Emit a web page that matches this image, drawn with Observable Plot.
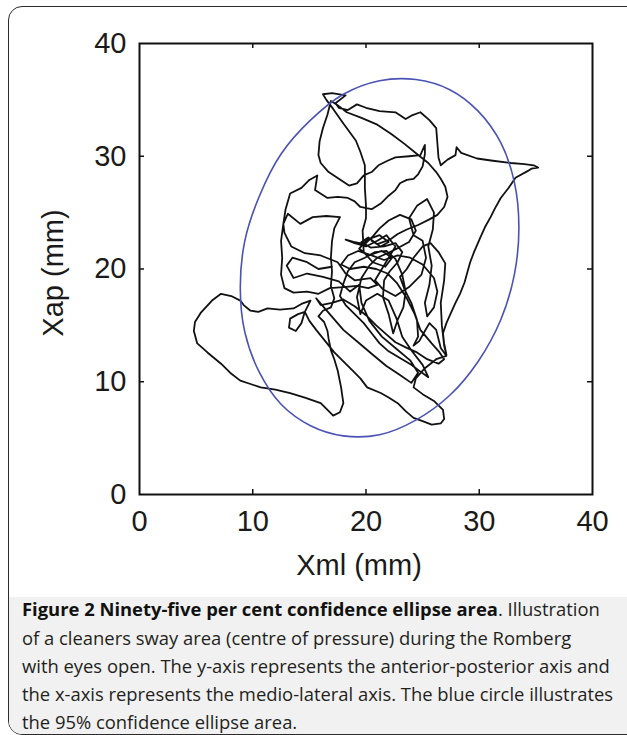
<!DOCTYPE html>
<html><head><meta charset="utf-8">
<script src="https://cdn.jsdelivr.net/npm/d3@7"></script>
<script src="https://cdn.jsdelivr.net/npm/@observablehq/plot@0.6"></script>
<style>
html,body{margin:0;padding:0;background:#fff;}
#page{position:relative;width:627px;height:735px;overflow:hidden;background:#fff;}
#box{position:absolute;left:8px;top:6px;width:650px;height:729px;border:1.5px solid #2b2b2b;border-radius:14px;box-sizing:border-box;overflow:hidden;}
#capbg{position:absolute;left:0;top:590px;width:100%;height:200px;background:#f1f1f1;}
#chart{position:absolute;left:0;top:0;}
.ln{position:absolute;left:22px;white-space:nowrap;font-family:"Open Sans",sans-serif;font-size:18.4px;line-height:22px;color:#231f20;}
.ln b{font-weight:700;color:#111;}
</style>
</head><body>
<div id="page">
  <div id="box"><div id="capbg"></div></div>
  <div id="chart"></div>
  <div class="ln" style="top:598px"><b>Figure 2 Ninety-five per cent confidence ellipse area</b>. Illustration</div>
  <div class="ln" style="top:627px">of a cleaners sway area (centre of pressure) during the Romberg</div>
  <div class="ln" style="top:655px">with eyes open. The y-axis represents the anterior-posterior axis and</div>
  <div class="ln" style="top:683px">the x-axis represents the medio-lateral axis. The blue circle illustrates</div>
  <div class="ln" style="top:711px">the 95% confidence ellipse area.</div>
</div>
<script>
const xTicks = [0, 10, 20, 30, 40];
const yTicks = [0, 10, 20, 30, 40];
const innerTicks = [10, 20, 30];
const xLabel = "Xml (mm)";
const yLabel = "Xap (mm)";

// 95% confidence ellipse outline (mm)
const ellipseX = [33.5,33.1,31.9,29.9,27.4,24.4,21.2,18.0,15.1,12.5,10.6,9.3,8.9,9.3,10.6,12.5,15.1,18.0,21.2,24.4,27.4,29.9,31.9,33.1];
const ellipseY = [23.7,27.7,31.2,34.0,35.9,36.8,36.7,35.5,33.2,30.2,26.5,22.5,18.3,14.4,10.8,8.0,6.1,5.2,5.3,6.6,8.8,11.8,15.5,19.5];

// centre-of-pressure sway path (mm)
const swayPath = [
[20.5,22.5],[21.3,22.0],[22.0,22.4],[21.2,23.0],[20.1,22.6],[19.4,21.8],[20.2,21.2],[21.4,21.6],[22.3,21.0],[21.7,20.2],[20.6,20.6],[19.8,21.5],[19.7,23.4],[20.0,24.5],[20.0,25.6],[19.9,27.2],[19.9,29.2],[19.5,30.4],[19.1,31.4],[18.0,32.9],[17.1,34.2],[16.5,35.0],[16.2,35.5],[17.0,35.6],[18.2,35.4],[17.3,34.7],[17.6,34.3],[18.4,34.1],[19.2,34.6],[20.0,34.3],[21.2,34.0],[22.6,33.9],[23.5,33.3],[24.0,33.6],[24.8,33.9],[25.6,33.2],[26.2,32.5],[26.3,31.2],[26.4,29.9],[26.6,29.2],
[27.2,29.7],[27.9,30.1],[28.0,30.8],[28.4,30.3],[29.8,29.8],[31.2,29.6],[32.8,29.4],[34.0,29.3],[34.8,29.2],[35.2,29.0],[34.6,28.9],[34.3,28.7],[33.2,28.1],[32.6,27.2],[31.9,26.3],[31.4,25.4],[31.0,24.6],[30.5,23.7],[30.1,22.8],[29.5,21.4],[29.2,20.6],[29.0,19.9],[28.7,18.8],[28.3,17.8],[27.9,17.0],[27.5,16.1],[27.1,15.2],[26.8,14.3],[26.9,13.4],[27.1,12.4],
[26.9,13.2],[26.7,15.0],[26.6,17.0],[26.9,19.0],[27.0,20.5],[26.4,21.5],[25.7,22.3],[25.0,22.0],[24.2,21.0],[23.6,20.0],[23.0,19.3],[23.4,18.2],[24.0,17.0],[24.5,15.5],[24.6,14.0],[24.2,13.2],[24.7,13.6],[25.2,14.5],[25.6,15.2],[26.2,14.6],[26.6,13.0],[27.1,12.3],
[26.2,12.0],[25.2,11.2],[24.4,10.3],[24.2,9.5],[25.0,8.9],[26.0,8.3],[26.8,7.5],[26.9,6.7],[26.6,6.3],[25.8,6.2],[25.0,6.5],[24.2,6.8],[23.5,7.4],[22.8,8.1],[22.0,8.6],[21.3,9.0],[20.1,9.5],[19.5,10.3],[18.8,11.0],[18.0,11.8],[17.2,12.6],[16.4,13.6],[15.6,14.6],[15.0,15.4],[14.6,16.2],[14.0,16.0],[13.3,15.6],[13.2,14.8],[13.8,14.5],[14.3,15.2],[14.6,16.2],[15.1,17.2],
[14.3,16.9],[13.6,16.5],[12.4,16.4],[11.3,16.5],[10.5,16.2],[9.8,16.3],[9.2,16.8],[8.9,17.2],[8.1,17.6],[7.2,17.8],[6.4,17.2],[5.4,16.1],[4.9,15.3],[4.8,14.5],[5.1,13.4],[6.0,12.6],[7.2,11.6],[8.0,10.8],[8.9,10.1],[9.8,9.8],[10.7,9.5],[12.0,9.3],[13.3,9.0],[14.6,8.6],[16.0,8.1],[16.6,7.5],[17.1,7.0],[17.7,7.3],[18.0,8.1],[17.8,9.5],[17.5,11.0],[17.2,12.0],[16.9,12.8],[16.7,13.8],[16.6,14.5],[16.3,15.3],[15.8,15.8],[16.2,16.3],[16.9,16.6],
[17.2,17.4],[16.9,18.5],[17.0,19.8],[16.9,21.0],[17.0,22.5],[17.2,23.6],[17.7,24.6],[16.5,24.7],[15.3,24.6],[14.2,24.0],[13.1,24.9],[12.7,24.0],[12.5,22.5],[12.6,21.0],[12.5,19.5],[12.8,18.3],[13.6,17.9],[14.8,18.0],[15.8,17.8],[16.8,18.3],[18.0,18.4],[19.2,18.5],[20.2,18.3],[21.0,18.6],[20.4,19.2],[19.0,19.0],[18.2,19.6],[17.5,20.6],[16.0,21.2],[14.6,21.4],[13.4,22.0],[12.8,23.2],[12.7,24.0],[12.9,25.3],[13.3,26.7],[14.3,27.2],[15.0,27.9],[15.7,28.3],[15.5,27.0],[16.6,26.3],[17.5,26.4],[18.4,26.3],[19.0,26.0],[19.5,25.5],[20.5,25.3],[21.3,25.8],[22.0,26.5],[22.6,27.0],[23.0,27.6],[23.6,27.9],[24.2,28.0],[24.6,28.4],[25.0,29.1],[25.2,30.2],[25.2,31.0],
[24.8,30.1],[23.8,30.0],[22.6,29.9],[21.9,29.6],[21.1,29.2],[20.5,28.6],[19.8,28.3],[19.2,27.6],[18.5,27.4],[17.6,28.0],[16.7,28.6],[16.0,29.4],[15.8,30.1],[15.9,31.3],[16.2,32.5],[16.6,33.7],[16.9,34.9],[17.4,34.6],[18.3,33.9],[19.6,33.4],[21.0,32.8],[22.2,32.0],[23.4,31.1],[24.5,30.2],[25.5,29.4],[26.2,28.6],[26.6,28.0],[27.0,27.3],[27.2,26.4],[26.9,25.5],[26.3,24.8],[25.6,24.4],[24.6,23.9],[23.6,23.5],[22.8,23.1],[22.1,22.6],[21.0,22.2],[20.2,22.8],[19.6,22.4],[20.4,21.9],[21.6,22.0],[22.6,22.3],[23.2,21.5],[22.8,20.6],[22.1,19.8],[21.6,19.0],[21.5,17.5],[22.0,16.0],[22.4,14.3],[22.8,15.5],[23.3,16.6],[23.5,18.0],[23.2,19.5],[22.6,20.9],[21.8,21.6],[20.8,21.5],[19.9,21.0],[19.0,20.6],[18.4,19.8],[18.0,18.7],[17.7,17.6],[18.2,16.8],[19.0,16.0],[19.8,15.2],[20.5,14.3],[21.2,13.4],[22.0,12.7],[23.0,12.1],[24.0,11.5],[24.8,10.9],[25.5,10.4],
[25.0,11.5],[24.0,12.8],[23.2,14.0],[22.7,15.6],[22.0,17.2],[21.0,17.8],[20.0,17.2],[19.5,16.0],[19.2,17.5],[19.6,19.2],[20.3,20.3],[21.0,21.0],[21.9,21.4],[22.9,21.9],[23.8,22.4],[24.4,23.4],[24.0,24.4],[23.0,24.8],[22.0,24.3],[21.2,23.6],[20.6,22.9],[19.9,22.2],[18.9,22.4],[18.2,22.6],[19.0,22.3],[20.0,22.0],[21.0,22.5],[21.8,23.0],[22.6,22.0],[22.0,21.0],[21.4,20.0],[20.8,19.0],
[21.5,18.2],[22.6,17.6],[23.8,18.4],[24.9,19.5],[25.3,21.0],[25.0,22.5],[24.2,23.0],[23.8,24.5],[24.5,25.6],[25.4,26.2],[26.0,25.0],[25.9,23.5],[25.5,22.0],[25.8,20.3],[25.6,18.6],[25.2,17.0],[25.4,15.8],[26.0,16.6],[26.3,18.0],[26.0,19.2],[25.0,20.4],[23.9,21.0],[22.8,21.2],[21.6,20.8],[20.5,21.2],[19.3,21.6],[18.4,21.2],[17.8,20.4],[18.6,20.0],[19.8,20.2],[20.9,20.0],[21.9,19.6],[22.7,18.8],[23.6,17.4],[24.3,16.0],[24.8,14.6],[25.8,13.4],[26.5,12.6],[26.9,12.0],[26.4,11.6],[25.4,12.0],[24.5,12.6],[23.6,13.0],[22.6,13.5],[21.8,14.2],[20.9,15.0],[20.0,15.9],[19.0,16.7],[18.0,17.3],[17.0,17.0],[16.0,16.8],[15.6,17.4],[16.8,16.0],[18.0,14.6],[19.3,13.5],[20.6,12.4],[21.8,11.4],[23.0,10.6],[24.0,9.9],[24.6,10.8],[23.9,11.9],[22.7,12.9],[21.4,14.0],[20.3,15.4],[19.6,17.0],[19.4,18.6],[18.6,18.0],[17.6,18.9],[16.2,19.3],[14.8,19.6],[13.6,19.2],[13.0,20.3],[13.5,21.0],[14.8,20.6],[15.8,20.0],[17.0,20.2]
];

const ellipse = ellipseX.map((x, i) => ({x, y: ellipseY[i]}));
const sway = swayPath.map(([x, y]) => ({x, y}));
const font = "'Liberation Sans', Arial, sans-serif";

const chart = Plot.plot({
  width: 627, height: 598,
  marginLeft: 139, marginRight: 35, marginTop: 43, marginBottom: 104,
  x: {domain: [0, 40]},
  y: {domain: [0, 40]},
  style: {background: "transparent", fontFamily: font, color: "#1a1a1a"},
  marks: [
    Plot.line(sway, {x: "x", y: "y", stroke: "#111", strokeWidth: 1.8, strokeLinejoin: "round"}),
    Plot.line(ellipse, {x: "x", y: "y", curve: "catmull-rom-closed", stroke: "#4a52b5", strokeWidth: 1.6}),
    Plot.ruleX(innerTicks, {x: d => d, insetTop: 446, stroke: "#111", strokeWidth: 1.5}),
    Plot.ruleX(innerTicks, {x: d => d, insetBottom: 446, stroke: "#111", strokeWidth: 1.5}),
    Plot.ruleY(innerTicks, {y: d => d, insetRight: 448, stroke: "#111", strokeWidth: 1.5}),
    Plot.ruleY(innerTicks, {y: d => d, insetLeft: 448, stroke: "#111", strokeWidth: 1.5}),
    Plot.frame({stroke: "#111", strokeWidth: 2}),
    Plot.axisX(xTicks, {tickSize: 0, tickPadding: 16, fontSize: 29, label: null, fill: "#1a1a1a"}),
    Plot.axisY(yTicks, {tickSize: 0, tickPadding: 13, fontSize: 29, label: null, fill: "#1a1a1a"}),
    Plot.text([xLabel], {text: d => d, frameAnchor: "bottom", textAnchor: "middle", dy: 80, dx: -7, fontSize: 29, fill: "#1a1a1a"}),
    Plot.text([yLabel], {text: d => d, frameAnchor: "left", textAnchor: "middle", dx: -86, dy: 4, rotate: -90, fontSize: 29, fill: "#1a1a1a"})
  ]
});
document.getElementById("chart").appendChild(chart);
</script>
</body></html>
